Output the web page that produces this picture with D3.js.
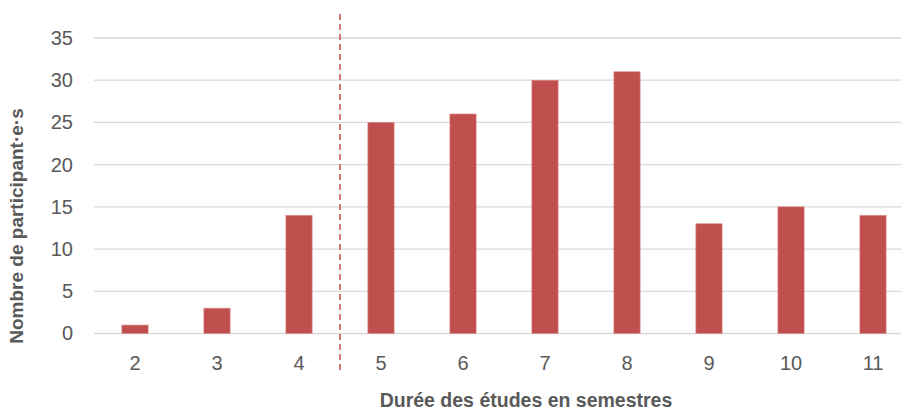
<!DOCTYPE html>
<html>
<head>
<meta charset="utf-8">
<script src="https://cdn.jsdelivr.net/npm/d3@7"></script>
<style>
  body { margin: 0; background: #fff; }
  text { font-family: "Liberation Sans", Arial, sans-serif; fill: #595959; }
</style>
</head>
<body>
<svg id="chart" width="901" height="412"></svg>
<script>
// data
var semestres = ["2", "3", "4", "5", "6", "7", "8", "9", "10", "11"];
var participants = [1, 3, 14, 25, 26, 30, 31, 13, 15, 14];
var yTicks = [0, 5, 10, 15, 20, 25, 30, 35];
var separatorAfter = "4";

var svg = d3.select("#chart");

var x = d3.scaleBand()
  .domain(semestres)
  .range([94, 914])
  .paddingInner(0.68)
  .paddingOuter(0.34);

var y = d3.scaleLinear()
  .domain([0, 35])
  .range([333.5, 38]);

// grid lines
svg.append("g")
  .selectAll("line")
  .data(yTicks)
  .enter().append("line")
  .attr("x1", 94)
  .attr("x2", 901)
  .attr("y1", function(d) { return y(d); })
  .attr("y2", function(d) { return y(d); })
  .attr("stroke", "#d9d9d9")
  .attr("stroke-width", 1.3);

// y axis labels
var yAxis = d3.axisLeft(y).tickValues(yTicks).tickSize(0).tickPadding(0);
var gy = svg.append("g")
  .attr("transform", "translate(73,0)")
  .call(yAxis);
gy.select(".domain").remove();
gy.selectAll("text")
  .attr("font-size", 20)
  .attr("fill", "#595959")
  .style("font-family", "Liberation Sans, Arial, sans-serif");

// bars
svg.append("g")
  .selectAll("rect")
  .data(participants)
  .enter().append("rect")
  .attr("x", function(d, i) { return x(semestres[i]); })
  .attr("y", function(d) { return y(d); })
  .attr("width", x.bandwidth())
  .attr("height", function(d) { return y(0) - y(d); })
  .attr("fill", "#c0504d")
  .attr("stroke", "#e08a88")
  .attr("stroke-width", 0.6);

// x axis labels
var xAxis = d3.axisBottom(x).tickSize(0).tickPadding(0);
var gx = svg.append("g")
  .attr("transform", "translate(0,356)")
  .call(xAxis);
gx.select(".domain").remove();
gx.selectAll("text")
  .attr("font-size", 20)
  .attr("fill", "#595959")
  .style("font-family", "Liberation Sans, Arial, sans-serif");

// dashed separator between 4 and 5
var sepX = x(separatorAfter) + x.step() - x.step() * x.paddingInner() / 2;
svg.append("line")
  .attr("x1", sepX)
  .attr("x2", sepX)
  .attr("y1", 14)
  .attr("y2", 372)
  .attr("stroke", "#c0504d")
  .attr("stroke-width", 1.5)
  .attr("stroke-dasharray", "6,4");

// axis titles
svg.append("text")
  .attr("x", 526)
  .attr("y", 407)
  .attr("text-anchor", "middle")
  .attr("font-size", 19.5)
  .attr("font-weight", "bold")
  .text("Durée des études en semestres");

svg.append("text")
  .attr("transform", "translate(23,226) rotate(-90)")
  .attr("text-anchor", "middle")
  .attr("font-size", 19)
  .attr("font-weight", "bold")
  .text("Nombre de participant·e·s");
</script>
</body>
</html>
